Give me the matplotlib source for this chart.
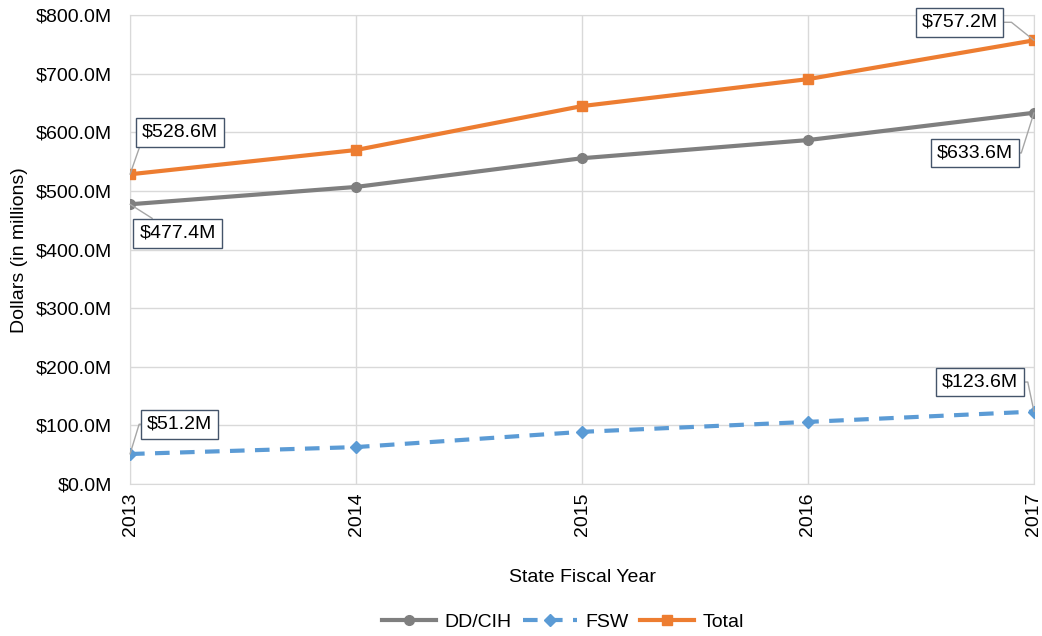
import matplotlib
matplotlib.use("Agg")
from matplotlib import pyplot as plt

plt.rcParams['font.family'] = ['Liberation Sans', 'DejaVu Sans']

years = [2013, 2014, 2015, 2016, 2017]
dd_cih = [477.4, 507.0, 556.0, 587.0, 633.6]
fsw = [51.2, 63.0, 89.0, 106.0, 123.6]
total = [528.6, 570.0, 645.0, 691.0, 757.2]

GRAY = '#7f7f7f'
BLUE = '#5b9bd5'
ORANGE = '#ed7d31'

fig = plt.figure(figsize=(10.42, 6.36), dpi=100)
ax = fig.add_axes([0.1248, 0.239, 0.8675, 0.737])

ax.plot(years, dd_cih, color=GRAY, lw=3, marker='o', ms=7, label='DD/CIH', zorder=3)
ax.plot(years, fsw, color=BLUE, lw=3, ls=(0, (3.5, 2.5)), marker='D', ms=6, label='FSW', zorder=3)
ax.plot(years, total, color=ORANGE, lw=3, marker='s', ms=7, label='Total', zorder=3)

ax.set_xlim(2013, 2017)
ax.set_ylim(0, 800)
ax.set_xticks(years)
ax.set_xticklabels([str(y) for y in years], rotation=90, fontsize=14)
ax.set_yticks(range(0, 801, 100))
ax.set_yticklabels(['${:.1f}M'.format(v) for v in range(0, 801, 100)], fontsize=14)
ax.tick_params(axis='y', length=0, pad=13)
ax.tick_params(axis='x', length=0, pad=6)
ax.grid(True, color='#d9d9d9', lw=1)
ax.set_axisbelow(True)
for s in ax.spines.values():
    s.set_color('#d9d9d9')

ax.set_ylabel('Dollars (in millions)', fontsize=14)
ax.yaxis.set_label_coords(-0.113, 0.5)
ax.set_xlabel('State Fiscal Year', fontsize=14)
ax.xaxis.set_label_coords(0.5, -0.182)

box = dict(boxstyle='square,pad=0.3', fc='white', ec='#44546a', lw=1)

# point x, point y, text x, text y, attach point on box, connector style
labels = [
    (2013, total[0], 2013.22, 600, (0, 0), 'arc3'),
    (2013, dd_cih[0], 2013.21, 428, (0.3, 1), 'arc3'),
    (2017, total[-1], 2016.67, 788, (1, 0.5), 'arc,angleA=0,armA=14,angleB=90,armB=0,rad=0'),
    (2017, dd_cih[-1], 2016.74, 565, (1, 0.5), 'arc,angleA=0,armA=8,angleB=90,armB=0,rad=0'),
    (2013, fsw[0], 2013.22, 102, (0, 0.5), 'arc,angleA=180,armA=8,angleB=90,armB=0,rad=0'),
    (2017, fsw[-1], 2016.76, 174, (1, 0.5), 'arc,angleA=0,armA=10,angleB=90,armB=0,rad=0'),
]
for x, y, tx, ty, rp, cs in labels:
    lp = dict(arrowstyle='-', color='#a6a6a6', lw=1, shrinkA=0, shrinkB=0,
              relpos=rp, connectionstyle=cs)
    ax.annotate('${:.1f}M'.format(y), xy=(x, y), xytext=(tx, ty),
                ha='center', va='center', fontsize=14, bbox=box,
                arrowprops=lp, annotation_clip=False, zorder=4)

fig.legend(*ax.get_legend_handles_labels(), loc='center', bbox_to_anchor=(0.54, 0.022),
           ncol=3, frameon=False, fontsize=14, handlelength=2.8,
           columnspacing=0.6, handletextpad=0.4)

fig.savefig('out.png', dpi=100)
